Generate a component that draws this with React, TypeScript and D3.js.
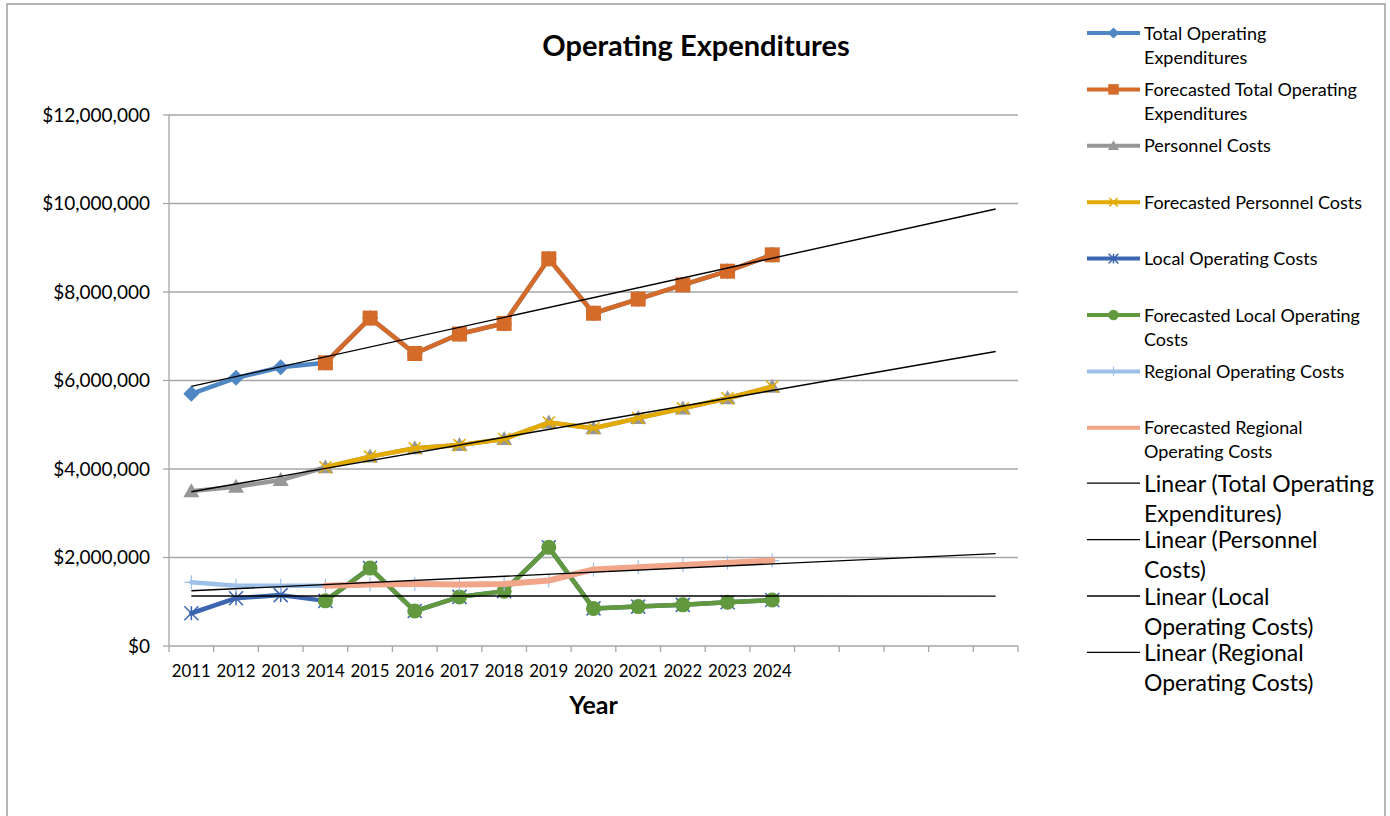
import React from "react";
import * as d3 from "d3";

// ---------- data ----------
const years = ["2011","2012","2013","2014","2015","2016","2017","2018","2019","2020","2021","2022","2023","2024"];
// category axis has 5 extra empty slots after 2024 (trend forecast room)
const extraSlots = ["", "", "", "", ""];
const yTicks = [0, 2000000, 4000000, 6000000, 8000000, 10000000, 12000000];

const totalOperating = [5700000, 6060000, 6300000, 6400000, 7410000, 6610000, 7050000, 7290000, 8750000, 7520000, 7840000, 8160000, 8470000, 8840000];
const personnelCosts = [3500000, 3600000, 3750000, 4040000, 4280000, 4470000, 4540000, 4680000, 5050000, 4920000, 5150000, 5370000, 5600000, 5860000];
const localCosts = [740000, 1080000, 1150000, 1020000, 1760000, 790000, 1110000, 1240000, 2230000, 850000, 890000, 930000, 990000, 1040000];
const regionalCosts = [1440000, 1360000, 1360000, 1360000, 1390000, 1400000, 1390000, 1400000, 1480000, 1730000, 1780000, 1830000, 1880000, 1930000];
const forecastFrom = "2014";

const legendLabels = [
  ["Total Operating", "Expenditures"],
  ["Forecasted Total Operating", "Expenditures"],
  ["Personnel Costs"],
  ["Forecasted Personnel Costs"],
  ["Local Operating Costs"],
  ["Forecasted Local Operating", "Costs"],
  ["Regional Operating Costs"],
  ["Forecasted Regional", "Operating Costs"],
];
const trendLabels = [
  ["Linear (Total Operating", "Expenditures)"],
  ["Linear (Personnel", "Costs)"],
  ["Linear (Local", "Operating Costs)"],
  ["Linear (Regional", "Operating Costs)"],
];

// ---------- styles ----------
const FONT = "Lato, 'Open Sans', sans-serif";
const GRID = "#A6A6A6";
type Marker = "diamond" | "square" | "triangle" | "x" | "asterisk" | "circle" | "plus" | "none";
const seriesStyle: { color: string; marker: Marker; size: number; width: number }[] = [
  { color: "#4F87C4", marker: "diamond", size: 8, width: 4.5 },
  { color: "#D56B28", marker: "square", size: 7.5, width: 4.5 },
  { color: "#979797", marker: "triangle", size: 8, width: 4.5 },
  { color: "#E3AB00", marker: "x", size: 6, width: 4.5 },
  { color: "#3D66B0", marker: "asterisk", size: 7, width: 4.5 },
  { color: "#62993E", marker: "circle", size: 7.5, width: 4.5 },
  { color: "#9DC0E8", marker: "plus", size: 7, width: 4.5 },
  { color: "#F1A589", marker: "none", size: 0, width: 6 },
];

function markerEl(kind: Marker, cx: number, cy: number, r: number, color: string, key: string) {
  switch (kind) {
    case "diamond":
      return <path key={key} d={`M${cx},${cy - r}L${cx + r},${cy}L${cx},${cy + r}L${cx - r},${cy}Z`} fill={color} />;
    case "square":
      return <rect key={key} x={cx - r} y={cy - r} width={2 * r} height={2 * r} fill={color} />;
    case "triangle":
      return <path key={key} d={`M${cx},${cy - r}L${cx + r},${cy + r * 0.75}L${cx - r},${cy + r * 0.75}Z`} fill={color} />;
    case "x":
      return <path key={key} d={`M${cx - r},${cy - r}L${cx + r},${cy + r}M${cx + r},${cy - r}L${cx - r},${cy + r}`} stroke={color} strokeWidth={1.5} fill="none" />;
    case "asterisk":
      return <path key={key} d={`M${cx - r},${cy - r}L${cx + r},${cy + r}M${cx + r},${cy - r}L${cx - r},${cy + r}M${cx},${cy - r}L${cx},${cy + r}`} stroke={color} strokeWidth={1.5} fill="none" />;
    case "circle":
      return <circle key={key} cx={cx} cy={cy} r={r} fill={color} />;
    case "plus":
      return <path key={key} d={`M${cx - r},${cy}L${cx + r},${cy}M${cx},${cy - r}L${cx},${cy + r}`} stroke={color} strokeWidth={1.2} fill="none" />;
    default:
      return null;
  }
}

function linearFit(vals: number[]) {
  const n = vals.length;
  const xs = vals.map((_, i) => i + 1);
  const mx = d3.mean(xs)!;
  const my = d3.mean(vals)!;
  let num = 0, den = 0;
  for (let i = 0; i < n; i++) { num += (xs[i] - mx) * (vals[i] - my); den += (xs[i] - mx) ** 2; }
  const b = num / den;
  return { a: my - b * mx, b };
}

export default function App() {
  const W = 1390, H = 816;
  const left = 169, right = 1018, top = 115, bottom = 646;
  const cats = years.map((y, i) => ({ id: "c" + i, label: y })).concat(extraSlots.map((l, i) => ({ id: "e" + i, label: l })));
  const x = d3.scaleBand<string>().domain(cats.map((c) => c.id)).range([left, right]).padding(0);
  const bw = x.bandwidth();
  const cx = (i: number) => x(cats[i].id)! + bw / 2;
  const y = d3.scaleLinear().domain([0, 12000000]).range([bottom, top]);
  const fmt = (v: number) => "$" + d3.format(",")(v);
  const line = d3.line<[number, number]>().x((d) => d[0]).y((d) => d[1]);

  const fIdx = years.indexOf(forecastFrom);
  const actual = [totalOperating, personnelCosts, localCosts, regionalCosts];
  // series in Excel order: actual, forecast, actual, forecast...
  const series: { pts: [number, number][] }[] = [];
  actual.forEach((vals) => {
    series.push({ pts: vals.map((v, i) => [cx(i), y(v)] as [number, number]) });
    series.push({ pts: vals.slice(fIdx).map((v, i) => [cx(i + fIdx), y(v)] as [number, number]) });
  });

  const trends = actual.map((vals) => {
    const { a, b } = linearFit(vals);
    const n = cats.length;
    return line([[cx(0), y(a + b * 1)], [cx(n - 1), y(a + b * n)]]);
  });

  const legX0 = 1087, legX1 = 1140, legTX = 1144, legY0 = 33, legStep = 56.4;

  return (
    <svg width={W} height={H} style={{ position: "absolute", left: 0, top: 0, background: "#fff" }} fontFamily={FONT}>
      <rect x={0} y={0} width={W} height={H} fill="#fff" />
      <rect x={7} y={4} width={1378} height={900} fill="#fff" stroke="#ADADAD" strokeWidth={1.8} />
      {/* title */}
      <text x={696} y={56} textAnchor="middle" fontSize={29} fontWeight="bold" fill="#000">Operating Expenditures</text>
      {/* gridlines */}
      {yTicks.map((t) => (
        <g key={t}>
          {t > 0 && <line x1={left} x2={right} y1={y(t)} y2={y(t)} stroke={GRID} strokeWidth={1.3} />}
          <line x1={left - 6} x2={left} y1={y(t)} y2={y(t)} stroke={GRID} strokeWidth={1.3} />
          <text x={150} y={y(t) + 6.5} textAnchor="end" fontSize={19} fill="#000">{fmt(t)}</text>
        </g>
      ))}
      {/* axes */}
      <line x1={left} x2={left} y1={top} y2={bottom} stroke={GRID} strokeWidth={1.3} />
      <line x1={left} x2={right} y1={bottom} y2={bottom} stroke={GRID} strokeWidth={1.3} />
      {cats.map((c, i) => (
        <line key={"t" + i} x1={x(c.id)!} x2={x(c.id)!} y1={bottom} y2={bottom + 6} stroke={GRID} strokeWidth={1.3} />
      ))}
      <line x1={right} x2={right} y1={bottom} y2={bottom + 6} stroke={GRID} strokeWidth={1.3} />
      {cats.map((c, i) => (
        <text key={"l" + i} x={cx(i)} y={677} textAnchor="middle" fontSize={16.8} fill="#000">{c.label}</text>
      ))}
      <text x={(left + right) / 2} y={714} textAnchor="middle" fontSize={25} fontWeight="bold" fill="#000">Year</text>
      {/* series */}
      {series.map((s, si) => {
        const st = seriesStyle[si];
        return (
          <g key={"s" + si}>
            <path d={line(s.pts)!} fill="none" stroke={st.color} strokeWidth={st.width} strokeLinejoin="round" strokeLinecap="round" />
            {s.pts.map((p, pi) => markerEl(st.marker, p[0], p[1], st.size, st.color, "m" + si + "-" + pi))}
          </g>
        );
      })}
      {/* trendlines */}
      {trends.map((d, i) => (
        <path key={"tr" + i} d={d!} stroke="#000" strokeWidth={1.4} fill="none" />
      ))}
      {/* legend */}
      {legendLabels.map((lines, i) => {
        const ly = legY0 + i * legStep;
        const st = seriesStyle[i];
        return (
          <g key={"lg" + i}>
            <line x1={legX0} x2={legX1} y1={ly} y2={ly} stroke={st.color} strokeWidth={4} />
            {markerEl(st.marker, (legX0 + legX1) / 2, ly, st.size * 0.7, st.color, "lm" + i)}
            {lines.map((t, k) => (
              <text key={k} x={legTX} y={ly + 6.5 + k * 24} fontSize={18} fill="#000">{t}</text>
            ))}
          </g>
        );
      })}
      {trendLabels.map((lines, i) => {
        const ly = legY0 + (legendLabels.length + i) * legStep - 1;
        return (
          <g key={"tl" + i}>
            <line x1={legX0} x2={legX1} y1={ly} y2={ly} stroke="#000" strokeWidth={1.3} />
            {lines.map((t, k) => (
              <text key={k} x={legTX} y={ly + 8.5 + k * 30} fontSize={23} fill="#000">{t}</text>
            ))}
          </g>
        );
      })}
    </svg>
  );
}
